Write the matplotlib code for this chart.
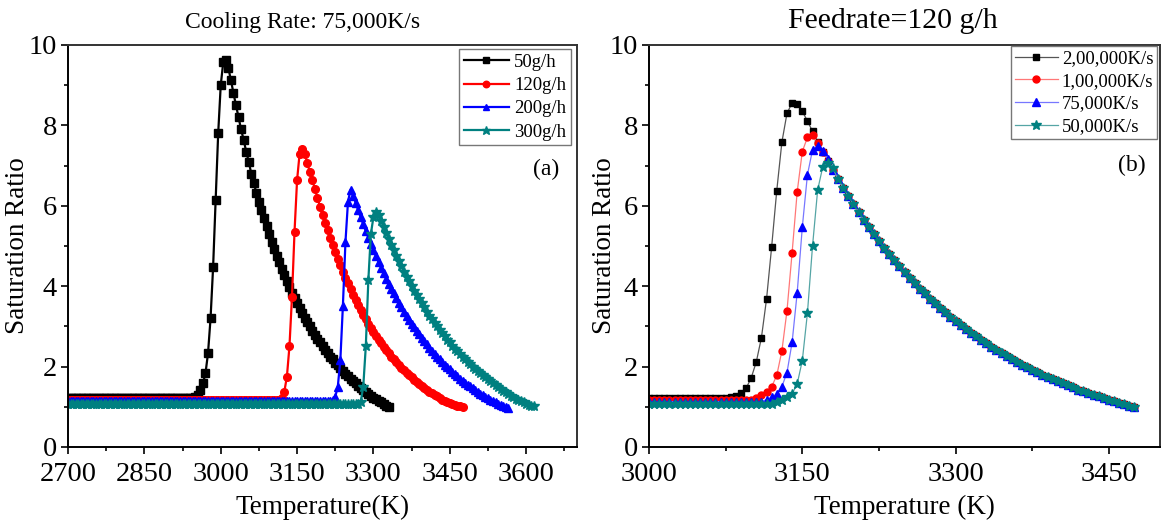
import matplotlib
matplotlib.use("Agg")
import matplotlib.pyplot as plt
from matplotlib.ticker import MultipleLocator

plt.rcParams['font.family'] = ['Liberation Serif', 'DejaVu Serif']

# ---------------- panel (a): cooling rate 75,000 K/s, different feedrates
temps_a = [2700, 2705, 2710, 2715, 2720, 2725, 2730, 2735, 2740, 2745,
           2750, 2755, 2760, 2765, 2770, 2775, 2780, 2785, 2790, 2795,
           2800, 2805, 2810, 2815, 2820, 2825, 2830, 2835, 2840, 2845,
           2850, 2855, 2860, 2865, 2870, 2875, 2880, 2885, 2890, 2895,
           2900, 2905, 2910, 2915, 2920, 2925, 2930, 2935, 2940, 2945,
           2950, 2955, 2960, 2965, 2970, 2975, 2980, 2985, 2990, 2995,
           3000, 3005, 3010, 3015, 3020, 3025, 3030, 3035, 3040, 3045,
           3050, 3055, 3060, 3065, 3070, 3075, 3080, 3085, 3090, 3095,
           3100, 3105, 3110, 3115, 3120, 3125, 3130, 3135, 3140, 3145,
           3150, 3155, 3160, 3165, 3170, 3175, 3180, 3185, 3190, 3195,
           3200, 3205, 3210, 3215, 3220, 3225, 3230, 3235, 3240, 3245,
           3250, 3255, 3260, 3265, 3270, 3275, 3280, 3285, 3290, 3295,
           3300, 3305, 3310, 3315, 3320, 3325, 3330, 3335, 3340, 3345,
           3350, 3355, 3360, 3365, 3370, 3375, 3380, 3385, 3390, 3395,
           3400, 3405, 3410, 3415, 3420, 3425, 3430, 3435, 3440, 3445,
           3450, 3455, 3460, 3465, 3470, 3475, 3480, 3485, 3490, 3495,
           3500, 3505, 3510, 3515, 3520, 3525, 3530, 3535, 3540, 3545,
           3550, 3555, 3560, 3565, 3570, 3575, 3580, 3585, 3590, 3595,
           3600, 3605, 3610, 3615]

s_50gh = [1.21, 1.21, 1.21, 1.21, 1.21, 1.21, 1.21, 1.21, 1.21, 1.21,
          1.21, 1.21, 1.21, 1.21, 1.21, 1.21, 1.21, 1.21, 1.21, 1.21,
          1.21, 1.21, 1.21, 1.21, 1.21, 1.21, 1.21, 1.21, 1.21, 1.21,
          1.21, 1.21, 1.21, 1.21, 1.21, 1.21, 1.21, 1.21, 1.21, 1.21,
          1.21, 1.21, 1.21, 1.21, 1.21, 1.21, 1.21, 1.21, 1.21, 1.22,
          1.24, 1.30, 1.42, 1.58, 1.83, 2.33, 3.20, 4.47, 6.14, 7.80,
          9.00, 9.58, 9.62, 9.42, 9.13, 8.80, 8.50, 8.20, 7.90, 7.64,
          7.35, 7.10, 6.80, 6.56, 6.33, 6.10, 5.90, 5.69, 5.49, 5.30,
          5.11, 4.93, 4.76, 4.59, 4.43, 4.28, 4.13, 3.98, 3.84, 3.71,
          3.58, 3.45, 3.33, 3.22, 3.10, 3.00, 2.89, 2.79, 2.69, 2.60,
          2.51, 2.42, 2.34, 2.25, 2.18, 2.10, 2.03, 1.96, 1.89, 1.82,
          1.76, 1.70, 1.64, 1.58, 1.52, 1.47, 1.42, 1.37, 1.32, 1.28,
          1.23, 1.19, 1.15, 1.11, 1.07, 1.03, 1.00]

s_120gh = [1.16, 1.16, 1.16, 1.16, 1.16, 1.16, 1.16, 1.16, 1.16, 1.16,
           1.16, 1.16, 1.16, 1.16, 1.16, 1.16, 1.16, 1.16, 1.16, 1.16,
           1.16, 1.16, 1.16, 1.16, 1.16, 1.16, 1.16, 1.16, 1.16, 1.16,
           1.16, 1.16, 1.16, 1.16, 1.16, 1.16, 1.16, 1.16, 1.16, 1.16,
           1.16, 1.16, 1.16, 1.16, 1.16, 1.16, 1.16, 1.16, 1.16, 1.16,
           1.16, 1.16, 1.16, 1.16, 1.16, 1.16, 1.16, 1.16, 1.16, 1.16,
           1.16, 1.16, 1.16, 1.16, 1.16, 1.16, 1.16, 1.16, 1.16, 1.16,
           1.16, 1.16, 1.16, 1.16, 1.16, 1.16, 1.16, 1.16, 1.16, 1.16,
           1.16, 1.16, 1.16, 1.17, 1.21, 1.38, 1.75, 2.50, 3.74, 5.36,
           6.64, 7.30, 7.42, 7.30, 7.06, 6.85, 6.64, 6.42, 6.20, 5.98,
           5.78, 5.58, 5.39, 5.20, 5.02, 4.85, 4.68, 4.52, 4.36, 4.21,
           4.07, 3.93, 3.79, 3.66, 3.53, 3.41, 3.29, 3.18, 3.07, 2.96,
           2.86, 2.76, 2.67, 2.58, 2.49, 2.41, 2.33, 2.25, 2.18, 2.11,
           2.04, 1.97, 1.91, 1.85, 1.79, 1.73, 1.67, 1.62, 1.57, 1.52,
           1.47, 1.42, 1.38, 1.34, 1.30, 1.26, 1.22, 1.18, 1.15, 1.12,
           1.09, 1.06, 1.04, 1.02, 1.01, 1.00]

s_200gh = [1.14, 1.14, 1.14, 1.14, 1.14, 1.14, 1.14, 1.14, 1.14, 1.14,
           1.14, 1.14, 1.14, 1.14, 1.14, 1.14, 1.14, 1.14, 1.14, 1.14,
           1.14, 1.14, 1.14, 1.14, 1.14, 1.14, 1.14, 1.14, 1.14, 1.14,
           1.14, 1.14, 1.14, 1.14, 1.14, 1.14, 1.14, 1.14, 1.14, 1.14,
           1.14, 1.14, 1.14, 1.14, 1.14, 1.14, 1.14, 1.14, 1.14, 1.14,
           1.14, 1.14, 1.14, 1.14, 1.14, 1.14, 1.14, 1.14, 1.14, 1.14,
           1.14, 1.14, 1.14, 1.14, 1.14, 1.14, 1.14, 1.14, 1.14, 1.14,
           1.14, 1.14, 1.14, 1.14, 1.14, 1.14, 1.14, 1.14, 1.14, 1.14,
           1.14, 1.14, 1.14, 1.14, 1.14, 1.14, 1.14, 1.14, 1.14, 1.14,
           1.14, 1.14, 1.14, 1.14, 1.14, 1.14, 1.14, 1.14, 1.14, 1.14,
           1.14, 1.14, 1.14, 1.14, 1.16, 1.25, 1.50, 2.16, 3.51, 5.09,
           6.10, 6.40, 6.25, 6.08, 5.89, 5.71, 5.54, 5.37, 5.21, 5.05,
           4.89, 4.74, 4.60, 4.46, 4.32, 4.19, 4.06, 3.94, 3.82, 3.70,
           3.59, 3.48, 3.37, 3.27, 3.17, 3.07, 2.98, 2.89, 2.80, 2.71,
           2.63, 2.55, 2.47, 2.40, 2.32, 2.25, 2.18, 2.12, 2.05, 1.99,
           1.93, 1.87, 1.81, 1.76, 1.70, 1.65, 1.60, 1.55, 1.51, 1.46,
           1.42, 1.37, 1.33, 1.29, 1.25, 1.22, 1.18, 1.14, 1.11, 1.08,
           1.05, 1.02, 1.00, 0.98]

s_300gh = [1.06, 1.06, 1.06, 1.06, 1.06, 1.06, 1.06, 1.06, 1.06, 1.06,
           1.06, 1.06, 1.06, 1.06, 1.06, 1.06, 1.06, 1.06, 1.06, 1.06,
           1.06, 1.06, 1.06, 1.06, 1.06, 1.06, 1.06, 1.06, 1.06, 1.06,
           1.06, 1.06, 1.06, 1.06, 1.06, 1.06, 1.06, 1.06, 1.06, 1.06,
           1.06, 1.06, 1.06, 1.06, 1.06, 1.06, 1.06, 1.06, 1.06, 1.06,
           1.06, 1.06, 1.06, 1.06, 1.06, 1.06, 1.06, 1.06, 1.06, 1.06,
           1.06, 1.06, 1.06, 1.06, 1.06, 1.06, 1.06, 1.06, 1.06, 1.06,
           1.06, 1.06, 1.06, 1.06, 1.06, 1.06, 1.06, 1.06, 1.06, 1.06,
           1.06, 1.06, 1.06, 1.06, 1.06, 1.06, 1.06, 1.06, 1.06, 1.06,
           1.06, 1.06, 1.06, 1.06, 1.06, 1.06, 1.06, 1.06, 1.06, 1.06,
           1.06, 1.06, 1.06, 1.06, 1.06, 1.06, 1.06, 1.06, 1.06, 1.06,
           1.06, 1.06, 1.06, 1.06, 1.07, 1.12, 1.50, 2.50, 4.15, 5.30,
           5.72, 5.85, 5.76, 5.62, 5.47, 5.32, 5.17, 5.03, 4.89, 4.75,
           4.62, 4.49, 4.36, 4.24, 4.12, 4.00, 3.89, 3.78, 3.67, 3.57,
           3.47, 3.37, 3.27, 3.18, 3.09, 3.00, 2.92, 2.83, 2.75, 2.67,
           2.60, 2.52, 2.45, 2.38, 2.31, 2.25, 2.18, 2.12, 2.06, 2.00,
           1.94, 1.89, 1.83, 1.78, 1.73, 1.68, 1.63, 1.58, 1.53, 1.48,
           1.44, 1.40, 1.36, 1.32, 1.28, 1.24, 1.20, 1.17, 1.14, 1.11,
           1.08, 1.05, 1.03, 1.01]

labels_a = ["50g/h", "120g/h", "200g/h", "300g/h"]

# ---------------- panel (b): feedrate 120 g/h, different cooling rates
temps_b = [3000, 3005, 3010, 3015, 3020, 3025, 3030, 3035, 3040, 3045,
           3050, 3055, 3060, 3065, 3070, 3075, 3080, 3085, 3090, 3095,
           3100, 3105, 3110, 3115, 3120, 3125, 3130, 3135, 3140, 3145,
           3150, 3155, 3160, 3165, 3170, 3175, 3180, 3185, 3190, 3195,
           3200, 3205, 3210, 3215, 3220, 3225, 3230, 3235, 3240, 3245,
           3250, 3255, 3260, 3265, 3270, 3275, 3280, 3285, 3290, 3295,
           3300, 3305, 3310, 3315, 3320, 3325, 3330, 3335, 3340, 3345,
           3350, 3355, 3360, 3365, 3370, 3375, 3380, 3385, 3390, 3395,
           3400, 3405, 3410, 3415, 3420, 3425, 3430, 3435, 3440, 3445,
           3450, 3455, 3460, 3465, 3470, 3475]

# 3000-3180 K, where the four cooling rates differ
rise_200k = [1.22, 1.22, 1.22, 1.22, 1.22, 1.22, 1.22, 1.22, 1.22, 1.22,
             1.22, 1.22, 1.22, 1.22, 1.22, 1.22, 1.24, 1.27, 1.34, 1.46,
             1.72, 2.12, 2.72, 3.68, 4.98, 6.38, 7.58, 8.30, 8.56, 8.52,
             8.35, 8.11, 7.85, 7.59, 7.35, 7.11, 6.88]
rise_100k = [1.16, 1.16, 1.16, 1.16, 1.16, 1.16, 1.16, 1.16, 1.16, 1.16,
             1.16, 1.16, 1.16, 1.16, 1.16, 1.16, 1.16, 1.16, 1.16, 1.16,
             1.17, 1.22, 1.29, 1.36, 1.50, 1.78, 2.39, 3.39, 4.83, 6.35,
             7.35, 7.70, 7.75, 7.57, 7.35, 7.11, 6.88]
rise_75k = [1.13, 1.13, 1.13, 1.13, 1.13, 1.13, 1.13, 1.13, 1.13, 1.13,
            1.13, 1.13, 1.13, 1.13, 1.13, 1.13, 1.13, 1.13, 1.13, 1.13,
            1.13, 1.13, 1.13, 1.18, 1.24, 1.32, 1.50, 1.85, 2.60, 3.84,
            5.47, 6.77, 7.39, 7.49, 7.37, 7.16, 6.90]
rise_50k = [1.06, 1.06, 1.06, 1.06, 1.06, 1.06, 1.06, 1.06, 1.06, 1.06,
            1.06, 1.06, 1.06, 1.06, 1.06, 1.06, 1.06, 1.06, 1.06, 1.06,
            1.06, 1.06, 1.06, 1.06, 1.06, 1.12, 1.18, 1.24, 1.32, 1.57,
            2.15, 3.33, 5.00, 6.39, 6.97, 7.07, 6.93]

# 3185-3475 K, all four curves lie on top of each other
decay_b = [6.66, 6.45, 6.24, 6.04, 5.84, 5.65, 5.47, 5.30, 5.13, 4.96,
           4.80, 4.65, 4.50, 4.35, 4.21, 4.08, 3.94, 3.82, 3.69, 3.57,
           3.46, 3.35, 3.24, 3.14, 3.03, 2.94, 2.84, 2.75, 2.66, 2.58,
           2.49, 2.41, 2.34, 2.26, 2.19, 2.12, 2.05, 1.99, 1.92, 1.86,
           1.80, 1.74, 1.69, 1.63, 1.58, 1.53, 1.48, 1.43, 1.39, 1.34,
           1.30, 1.26, 1.22, 1.18, 1.14, 1.10, 1.07, 1.03, 1.00]

labels_b = ["2,00,000K/s", "1,00,000K/s", "75,000K/s", "50,000K/s"]

colors = ["#000000", "#ff0000", "#0000ff", "#008080"]
light = ["#555555", "#ff7777", "#7777ff", "#55a5a5"]
markers = ["s", "o", "^", "*"]


def style_axes(ax):
    for side in ["left", "bottom", "right", "top"]:
        ax.spines[side].set_linewidth(1.4)
    ax.spines["right"].set_color("#333333")
    ax.spines["top"].set_color("#333333")
    ax.tick_params(which="both", direction="out", top=False, right=False,
                   labelsize=20.5, width=1.2)
    ax.tick_params(which="major", length=5)
    ax.tick_params(which="minor", length=3)
    ax.tick_params(axis="x", pad=6)
    ax.tick_params(axis="y", pad=3)
    ax.set_ylim(0, 10)
    ax.yaxis.set_major_locator(MultipleLocator(2))
    ax.yaxis.set_minor_locator(MultipleLocator(1))
    ax.xaxis.set_minor_locator(MultipleLocator(75))


fig = plt.figure(figsize=(11.65, 5.22), dpi=100)

# Left panel
ax1 = fig.add_axes([0.0584, 0.1437, 0.4369, 0.7701])
series_a = [s_50gh, s_120gh, s_200gh, s_300gh]
for s, lab, c, m in zip(series_a, labels_a, colors, markers):
    ax1.plot(temps_a[:len(s)], s, color=c, marker=m, lw=1.6,
             ms=7.6 if m == "*" else 5.5, mec=c, mfc=c, label=lab)
style_axes(ax1)
ax1.set_xlim(2700, 3700)
ax1.set_xticks([2700, 2850, 3000, 3150, 3300, 3450, 3600])
ax1.set_xlabel("Temperature(K)", fontsize=19.5)
ax1.set_ylabel("Saturation Ratio", fontsize=19.5)
ax1.xaxis.set_label_coords(0.5, -0.12)
ax1.yaxis.set_label_coords(-0.075, 0.5)
ax1.set_title("Cooling Rate: 75,000K/s", fontsize=17, pad=12, x=0.46)
ax1.text(0.94, 0.69, "(a)", transform=ax1.transAxes, fontsize=17,
         ha="center", va="center")
leg1 = ax1.legend(loc="upper right", bbox_to_anchor=(0.988, 0.99),
                  fontsize=13.5, frameon=True, fancybox=False,
                  edgecolor="#777777", framealpha=1, borderpad=0.25,
                  labelspacing=0.33, handlelength=2.4, handletextpad=0.3,
                  borderaxespad=0, markerscale=0.85)
leg1.get_frame().set_linewidth(1.0)

# Right panel
ax2 = fig.add_axes([0.5571, 0.1437, 0.4386, 0.7701])
series_b = [rise_200k + decay_b, rise_100k + decay_b,
            rise_75k + decay_b, rise_50k + decay_b]
sizes_b = [4.6, 5.0, 5.6, 7.5]
for s, lab, c, lc, m, ms in zip(series_b, labels_b, colors, light,
                                markers, sizes_b):
    ax2.plot(temps_b, s, color=lc, lw=0.9, marker=m, linestyle="-",
             ms=ms, mec=c, mfc=c, label=lab)
style_axes(ax2)
ax2.set_xlim(3000, 3500)
ax2.set_xticks([3000, 3150, 3300, 3450])
ax2.set_xlabel("Temperature (K)", fontsize=19.5)
ax2.set_ylabel("Saturation Ratio", fontsize=19.5)
ax2.xaxis.set_label_coords(0.5, -0.12)
ax2.yaxis.set_label_coords(-0.063, 0.5)
ax2.set_title("Feedrate=120 g/h", fontsize=21.5, pad=12, x=0.477)
ax2.text(0.945, 0.70, "(b)", transform=ax2.transAxes, fontsize=17,
         ha="center", va="center")
leg2 = ax2.legend(loc="upper right", bbox_to_anchor=(0.994, 0.997),
                  fontsize=13.5, frameon=True, fancybox=False,
                  edgecolor="#777777", framealpha=1, borderpad=0.2,
                  labelspacing=0.3, handlelength=2.3, handletextpad=0.2,
                  borderaxespad=0)
leg2.get_frame().set_linewidth(1.0)

plt.savefig("out.png", dpi=100)
